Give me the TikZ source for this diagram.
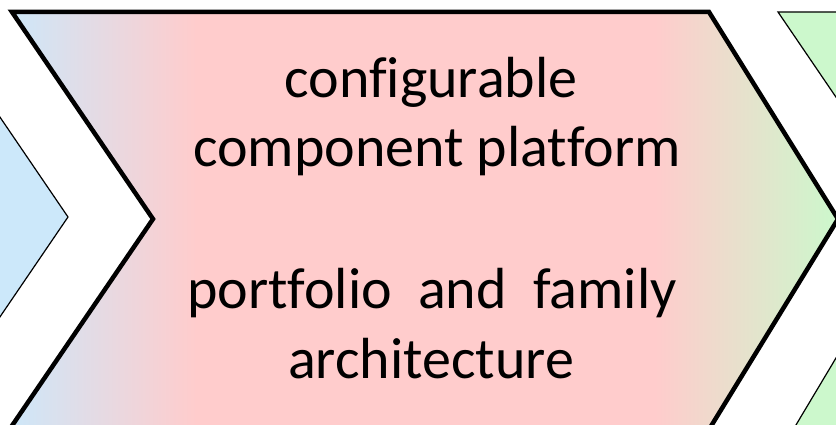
\documentclass[tikz,border=0pt]{standalone}
\usepackage{fontspec}
\setmainfont{Carlito}[Ligatures={NoCommon}]
\definecolor{cblue}{RGB}{204,232,250}
\definecolor{cpink}{RGB}{255,204,204}
\definecolor{cgreen}{RGB}{204,248,204}
\pgfdeclarehorizontalshading{mainshade}{100bp}{color(0bp)=(cblue); color(25bp)=(cblue); color(36.5bp)=(cpink); color(64bp)=(cpink); color(75bp)=(cgreen); color(100bp)=(cgreen)}
\begin{document}
\begin{tikzpicture}[x=1pt,y=-1pt,
  thinchev/.style={draw=black, line width=1.2pt, line join=miter},
  mainchev/.style={draw=black, line width=4.5pt, line join=miter, shading=mainshade},
  txt/.style={anchor=base, inner sep=0pt, font=\fontsize{58}{70}\selectfont}]
\useasboundingbox (0,0) rectangle (836,425);
\clip (0,0) rectangle (836,425);
\path[thinchev, fill=cblue] (-220,10) -- (-73,10) -- (68,217) -- (-73,424) -- (-220,424);
\path[thinchev, fill=cgreen] (778,12) -- (1000,12) -- (1000,440) -- (787,440) -- (919,219) -- cycle;
\path[mainchev] (12,12) -- (709,12) -- (838,219) -- (705,436) -- (5,436) -- (153,219) -- cycle;
\node[txt] (t1) at (431,98) {configurable};
\node[txt] (t2) at (437,167) {component platform};
\node[txt] (t3) at (432,308) {portfolio~ and~ family};
\node[txt] (t4) at (431,378) {architecture};
\end{tikzpicture}
\end{document}
